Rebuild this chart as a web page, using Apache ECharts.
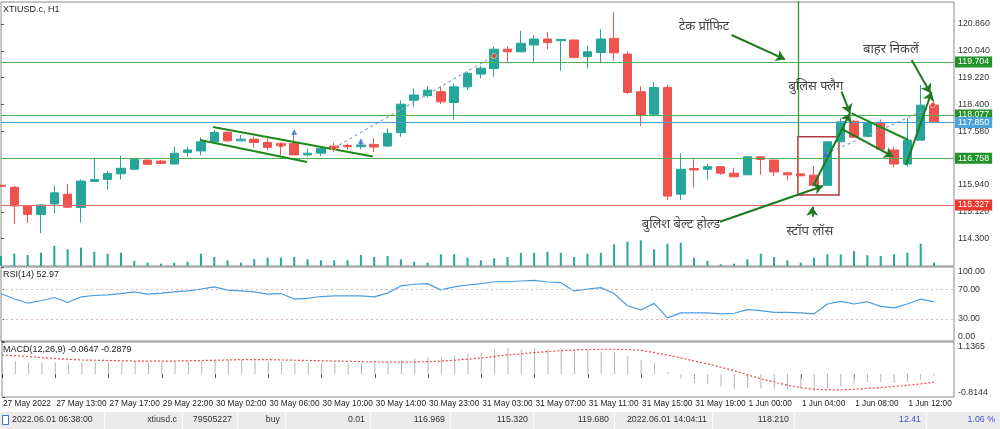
<!DOCTYPE html>
<html><head><meta charset="utf-8">
<script src="https://cdn.jsdelivr.net/npm/echarts@6/dist/echarts.min.js"></script>
<style>html,body{margin:0;padding:0;background:#fff}#c{width:1000px;height:429px}</style>
</head><body><div id="c"></div>
<script>
// ---------- DATA ----------
const timeLabels = ['27 May 2022','27 May 13:00','27 May 17:00','29 May 22:00','30 May 02:00','30 May 06:00','30 May 10:00','30 May 14:00','30 May 23:00','31 May 03:00','31 May 07:00','31 May 11:00','31 May 15:00','31 May 19:00','1 Jun 00:00','1 Jun 04:00','1 Jun 08:00','1 Jun 12:00'];
// [open, close, low, high]
const ohlc = [
[115.93,115.90,115.88,115.95],[115.87,115.30,114.75,115.91],[115.30,115.04,114.78,115.33],[115.04,115.33,114.47,115.36],
[115.36,115.70,115.07,115.93],[115.66,115.26,115.25,115.97],[115.25,116.06,114.79,116.11],[116.05,116.11,116.03,116.75],
[116.11,116.29,115.81,116.38],[116.28,116.45,116.11,116.83],[116.42,116.72,116.41,116.75],[116.70,116.57,116.55,116.72],
[116.67,116.60,116.58,116.71],[116.58,116.91,116.58,117.11],[116.93,117.01,116.80,117.11],[116.98,117.26,116.85,117.40],
[117.26,117.55,117.26,117.62],[117.55,117.29,117.25,117.57],[117.29,117.34,117.28,117.47],[117.34,117.24,117.08,117.42],
[117.24,117.09,117.01,117.37],[117.21,117.14,116.86,117.23],[117.21,116.86,116.86,117.52],[116.86,116.91,116.80,117.06],
[116.91,117.06,116.83,117.11],[117.13,117.07,116.95,117.23],[117.15,117.11,117.03,117.21],[117.11,117.16,117.03,117.26],
[117.18,117.10,116.95,117.37],[117.13,117.52,117.11,117.67],[117.54,118.41,117.42,118.52],[118.53,118.69,118.33,118.89],
[118.67,118.84,118.62,118.96],[118.79,118.48,118.41,118.96],[118.46,118.94,117.94,119.02],[118.94,119.35,118.84,119.40],
[119.33,119.51,119.20,119.58],[119.50,120.09,119.25,120.17],[120.09,120.01,119.71,120.17],[120.01,120.27,120.00,120.65],
[120.22,120.40,119.71,120.52],[120.40,120.29,120.09,120.62],[120.35,120.39,119.43,120.40],[120.37,119.84,119.81,120.39],
[119.86,120.01,119.50,120.20],[119.99,120.40,119.66,120.70],[120.42,119.98,119.74,121.22],[119.94,118.77,118.72,120.01],
[118.79,118.08,117.74,118.96],[118.10,118.92,118.03,119.08],[118.92,115.60,115.48,119.00],[115.66,116.42,115.48,116.91],
[116.44,116.40,115.87,116.72],[116.42,116.50,116.11,116.58],[116.50,116.30,116.25,116.52],[116.30,116.19,116.18,116.45],
[116.25,116.80,116.25,116.83],[116.80,116.72,116.25,116.82],[116.70,116.34,116.21,116.72],[116.31,116.25,116.09,116.34],
[116.28,116.22,116.22,116.28],[116.24,115.93,115.93,116.52],[115.93,117.26,115.93,117.26],[117.26,117.87,117.26,117.98],
[117.89,117.40,117.39,117.93],[117.42,117.84,117.40,117.87],[117.84,117.03,117.03,117.94],[117.01,116.58,116.48,117.09],
[116.58,117.31,116.50,117.98],[117.31,118.38,117.31,119.00],[118.38,117.87,117.87,118.54]
];
const volume = [1000,1230,1100,1330,2000,1670,1830,1430,1230,1330,500,330,230,330,430,1230,900,570,330,670,830,830,900,670,570,570,570,1100,900,1000,670,430,330,1170,1170,830,570,770,900,1330,1330,1430,1330,900,1230,1330,2170,2430,2570,1670,2230,2330,830,500,170,230,670,1230,900,570,330,830,1170,1170,1500,1070,1000,1170,1330,2230,330];
const rsi = [64.1,56.7,51.3,54.4,58.8,52.1,59.7,61.5,62.4,64.1,66.4,63.3,64.7,66.4,67.7,70.0,73.1,68.7,67.7,66.4,63.3,64.1,56.7,57.5,60.1,61.1,61.1,61.1,59.7,64.7,74.4,76.7,77.5,69.1,73.1,75.7,77.5,80.1,80.1,81.1,82.0,79.7,78.8,67.7,70.0,72.1,64.1,47.7,42.0,50.8,31.3,38.0,38.0,38.0,36.7,37.5,42.4,41.1,38.8,38.8,38.0,36.7,50.0,53.5,50.0,53.1,46.8,44.7,50.0,56.7,52.97];
const macd = [0.50,0.45,0.42,0.40,0.42,0.38,0.42,0.44,0.42,0.42,0.44,0.42,0.42,0.44,0.44,0.47,0.50,0.50,0.50,0.47,0.45,0.44,0.40,0.38,0.38,0.38,0.38,0.38,0.38,0.40,0.50,0.55,0.60,0.60,0.65,0.70,0.75,0.88,0.92,0.88,0.92,0.88,0.92,0.85,0.88,0.80,0.80,0.65,0.50,0.41,0.07,-0.16,-0.32,-0.36,-0.43,-0.55,-0.51,-0.51,-0.55,-0.57,-0.51,-0.60,-0.51,-0.43,-0.36,-0.28,-0.28,-0.32,-0.28,-0.20,-0.0647];
const signal = [0.68,0.65,0.62,0.58,0.55,0.52,0.50,0.49,0.48,0.47,0.46,0.46,0.46,0.46,0.47,0.48,0.49,0.50,0.51,0.51,0.51,0.50,0.49,0.48,0.47,0.46,0.45,0.44,0.43,0.42,0.42,0.43,0.44,0.46,0.49,0.53,0.57,0.62,0.68,0.72,0.76,0.80,0.83,0.85,0.87,0.88,0.88,0.87,0.84,0.76,0.67,0.57,0.46,0.36,0.24,0.12,-0.03,-0.17,-0.28,-0.40,-0.48,-0.54,-0.56,-0.56,-0.54,-0.51,-0.48,-0.44,-0.40,-0.35,-0.2879];
const priceTicks = [120.86,120.04,119.22,118.40,117.58,116.76,115.94,115.12,114.30];
const rsiTicks = [0,30,70,100];
const macdTicks = [-0.8144,1.1365];
const levelValues = [119.704,118.077,117.850,116.758,115.327];
const levelKinds = ['green','green','blue','green','red'];
// annotations in data coordinates [barIndex, price]
const flagLines = [
  [[15.9,117.712],[27.9,116.810]],
  [[14.93,117.315],[22.96,116.642]],
  [[63.82,118.131],[68.07,117.314]]
];
const arrowLines = [
  [[54.82,120.524],[58.82,119.781]],
  [[53.94,114.818],[61.67,115.909]],
  [[60.87,114.971],[60.87,115.276]],
  [[60.94,115.909],[63.70,118.131]],
  [[63.07,118.791],[63.70,118.131]],
  [[63.07,117.651],[66.94,116.804]],
  [[67.90,116.551],[69.82,118.782]],
  [[68.32,119.760],[69.73,118.751]]
];
const entryLine = [[59.79,121.60],[59.79,117.416]];
const slBox = [[59.79,117.416],[62.87,115.634]];
const tradeLines = [
  [[24.98,117.070],[36.99,119.882]],
  [[61.87,116.887],[69.92,118.333]]
];
const notes = [
  [52.74,120.80,'टेक प्रॉफिट'],
  [61.14,118.965,'बुलिस फ्लैग'],
  [66.77,120.096,'बाहर निकलें'],
  [51.02,114.748,'बुलिश बेल्ट होल्ड'],
  [60.69,114.534,'स्टॉप लॉस']
];
const buyMarks = [[22,117.56],[27,117.28],[61.87,116.887]];
const closeMarks = [[21,117.16],[24.98,117.07],[36.99,119.882],[69.92,118.385]];
const statusCells = [
  ['2022.06.01 06:38:00',103,'left'],['xtiusd.c',181,'right'],['79505227',236,'right'],['buy',284,'right'],
  ['0.01',369,'right'],['116.969',449,'right'],['115.320',532,'right'],['119.680',613,'right'],
  ['2022.06.01 14:04:11',711,'right'],['118.210',793,'right'],['12.41',925,'right'],['1.06 %',999,'right']
];

// ---------- CHART ----------
const FONT = 'Liberation Sans, Arial, sans-serif';
const BULL = '#26a69a', BEAR = '#ef5350';
const levelColor = {green:'#4caf50', blue:'#4a9fd5', red:'#f06a6a'};
const levelBg = {green:'#23922a', blue:'#4aa3d9', red:'#ea3a30'};
const XMAX = 71.5;
const chart = echarts.init(document.getElementById('c'), null, {renderer:'canvas'});

const gridCommon = {left:1, right:46, show:true, borderColor:'#8a8a8a', borderWidth:1, containLabel:false};
const hiddenX = (gi) => ({type:'value', gridIndex:gi, min:0, max:XMAX, show:false});

const option = {
  animation:false,
  backgroundColor:'#ffffff',
  textStyle:{fontFamily:FONT},
  grid:[
    Object.assign({top:2, height:264}, gridCommon),
    Object.assign({top:267, height:74}, gridCommon),
    Object.assign({top:342, height:55}, gridCommon)
  ],
  xAxis:[
    hiddenX(0), hiddenX(1),
    {type:'value', gridIndex:2, min:0, max:XMAX,
      axisLine:{show:false}, splitLine:{show:false},
      axisTick:{show:true, length:4, lineStyle:{color:'#555'}, customValues:timeLabels.map((_,k)=>k*4)},
      axisLabel:{show:true, customValues:timeLabels.map((_,k)=>k*4), align:'left', margin:3, padding:[0,0,0,1],
        color:'#222', fontSize:8.3, fontFamily:FONT, hideOverlap:false,
        formatter:(v)=>timeLabels[Math.round(v/4)] || ''}}
  ],
  yAxis:[
    {type:'value', gridIndex:0, position:'right', min:113.464, max:121.532, scale:true,
      splitLine:{show:false}, axisLine:{show:false},
      axisTick:{show:true, length:3, lineStyle:{color:'#555'}, customValues:priceTicks},
      axisLabel:{customValues:priceTicks, formatter:(v)=>v.toFixed(3), color:'#333', fontSize:8.8, margin:4, fontFamily:FONT}},
    {type:'value', gridIndex:0, min:0, max:26400, show:false},
    {type:'value', gridIndex:1, position:'right', min:0, max:100,
      splitLine:{show:false}, axisLine:{show:false},
      axisTick:{show:true, length:3, lineStyle:{color:'#555'}, customValues:rsiTicks},
      axisLabel:{customValues:rsiTicks, formatter:(v)=>v.toFixed(2), color:'#333', fontSize:8.8, margin:4, fontFamily:FONT,
        verticalAlignMinLabel:'bottom', verticalAlignMaxLabel:'top'}},
    {type:'value', gridIndex:2, position:'right', min:-0.8144, max:1.1365,
      splitLine:{show:false}, axisLine:{show:false},
      axisTick:{show:true, length:3, lineStyle:{color:'#555'}, customValues:macdTicks},
      axisLabel:{customValues:macdTicks, formatter:(v)=>v.toFixed(4), color:'#333', fontSize:8.8, margin:4, fontFamily:FONT,
        verticalAlignMinLabel:'bottom', verticalAlignMaxLabel:'top'}}
  ],
  series:[
    {type:'bar', name:'vol', xAxisIndex:0, yAxisIndex:1, barWidth:2, itemStyle:{color:BULL},
      data: volume.map((v,i)=>[i,v]), z:1},
    {type:'candlestick', name:'price', xAxisIndex:0, yAxisIndex:0, barWidth:9,
      encode:{x:0, y:[1,2,3,4]},
      itemStyle:{color:BULL, color0:BEAR, borderColor:BULL, borderColor0:BEAR, borderWidth:1},
      data: ohlc.map((d,i)=>[i,d[0],d[1],d[2],d[3]]), z:3,
      markLine:{symbol:'none', silent:true, animation:false,
        data: levelValues.map((v,k)=>({yAxis:v,
          lineStyle:{color:levelColor[levelKinds[k]], width:1, type:'solid', opacity:1},
          label:{show:true, position:'end', distance:1, formatter:v.toFixed(3), color:'#fff',
            backgroundColor:levelBg[levelKinds[k]], padding:[1,3,0,3], fontSize:8.8, fontFamily:FONT, lineHeight:10}}))},
      markArea:{silent:true, itemStyle:{color:'rgba(0,0,0,0)', borderColor:'#b23a3a', borderWidth:1.5},
        data:[[{coord:slBox[0]},{coord:slBox[1]}]]}
    },
    {type:'lines', coordinateSystem:'cartesian2d', xAxisIndex:0, yAxisIndex:0, polyline:false, z:4,
      lineStyle:{color:'#8aa3c6', width:1.2, type:[3,3], opacity:1}, symbol:'none',
      data: tradeLines.map(c=>({coords:c}))},
    {type:'lines', coordinateSystem:'cartesian2d', xAxisIndex:0, yAxisIndex:0, polyline:false, z:5,
      lineStyle:{color:'#2e9a2e', width:1.3, opacity:1}, symbol:'none',
      data: [{coords:entryLine}]},
    {type:'lines', coordinateSystem:'cartesian2d', xAxisIndex:0, yAxisIndex:0, polyline:false, z:6,
      lineStyle:{color:'#1c8a1c', width:2, opacity:1}, symbol:'none',
      data: flagLines.map(c=>({coords:c}))},
    {type:'lines', coordinateSystem:'cartesian2d', xAxisIndex:0, yAxisIndex:0, polyline:false, z:6,
      lineStyle:{color:'#1e7a1e', width:2, opacity:1}, symbol:['none','arrow'], symbolSize:9,
      data: arrowLines.map(c=>({coords:c}))},
    {type:'scatter', xAxisIndex:0, yAxisIndex:0, z:7, symbol:'triangle', symbolSize:6,
      itemStyle:{color:'#2f6fd6'}, data:buyMarks},
    {type:'scatter', xAxisIndex:0, yAxisIndex:0, z:7, symbol:'circle', symbolSize:5,
      itemStyle:{color:'#e03a2a', borderColor:'#f5c0a0', borderWidth:1}, data:closeMarks},
    {type:'scatter', xAxisIndex:0, yAxisIndex:0, z:8, symbolSize:1, itemStyle:{color:'rgba(0,0,0,0)'},
      label:{show:true, position:'inside', formatter:(p)=>p.value[2], color:'#111', fontSize:13,
        fontFamily:'Noto Sans, Noto Sans Devanagari, Lohit Devanagari, sans-serif'},
      data:notes},
    {type:'line', name:'rsi', xAxisIndex:1, yAxisIndex:2, showSymbol:false, symbol:'none',
      lineStyle:{color:'#4a9ee0', width:1.2}, data: rsi.map((v,i)=>[i,v]),
      markLine:{symbol:'none', silent:true, label:{show:false},
        lineStyle:{color:'#d9b8b8', type:[2,3], width:1}, data:[{yAxis:30},{yAxis:70}]}},
    {type:'bar', name:'macd', xAxisIndex:2, yAxisIndex:3, barWidth:1, itemStyle:{color:'#b4b4b4'},
      data: macd.map((v,i)=>[i,v])},
    {type:'line', name:'signal', xAxisIndex:2, yAxisIndex:3, showSymbol:false, symbol:'none',
      lineStyle:{color:'#e84848', width:1.2, type:[2,2]}, data: signal.map((v,i)=>[i,v])}
  ],
  graphic:[
    {type:'text', left:3, top:5, style:{text:'XTIUSD.c, H1', fill:'#222', font:'9px '+FONT}},
    {type:'text', left:3, top:270, style:{text:'RSI(14) 52.97', fill:'#222', font:'9px '+FONT}},
    {type:'text', left:3, top:345, style:{text:'MACD(12,26,9) -0.0647 -0.2879', fill:'#222', font:'9px '+FONT}},
    {type:'rect', shape:{x:0, y:412, width:1000, height:17}, style:{fill:'#ebebeb'}},
    {type:'rect', shape:{x:2.5, y:415.5, width:6, height:9}, style:{fill:'#fff', stroke:'#3a78c8', lineWidth:1}}
  ].concat(statusCells.map(c=>({type:'rect', shape:{x:c[1]+1, y:412, width:1, height:17}, style:{fill:'#fafafa'}})))
   .concat(statusCells.map(c=>({type:'text', x: c[2]==='left' ? 12 : c[1]-4, y:420,
     style:{text:c[0], fill: (c[0]==='12.41'||c[0]==='1.06 %') ? '#3b4fd8' : '#333', font:'8.8px '+FONT,
       textAlign:c[2], textVerticalAlign:'middle'}})))
};
chart.setOption(option);
</script>
</body></html>
